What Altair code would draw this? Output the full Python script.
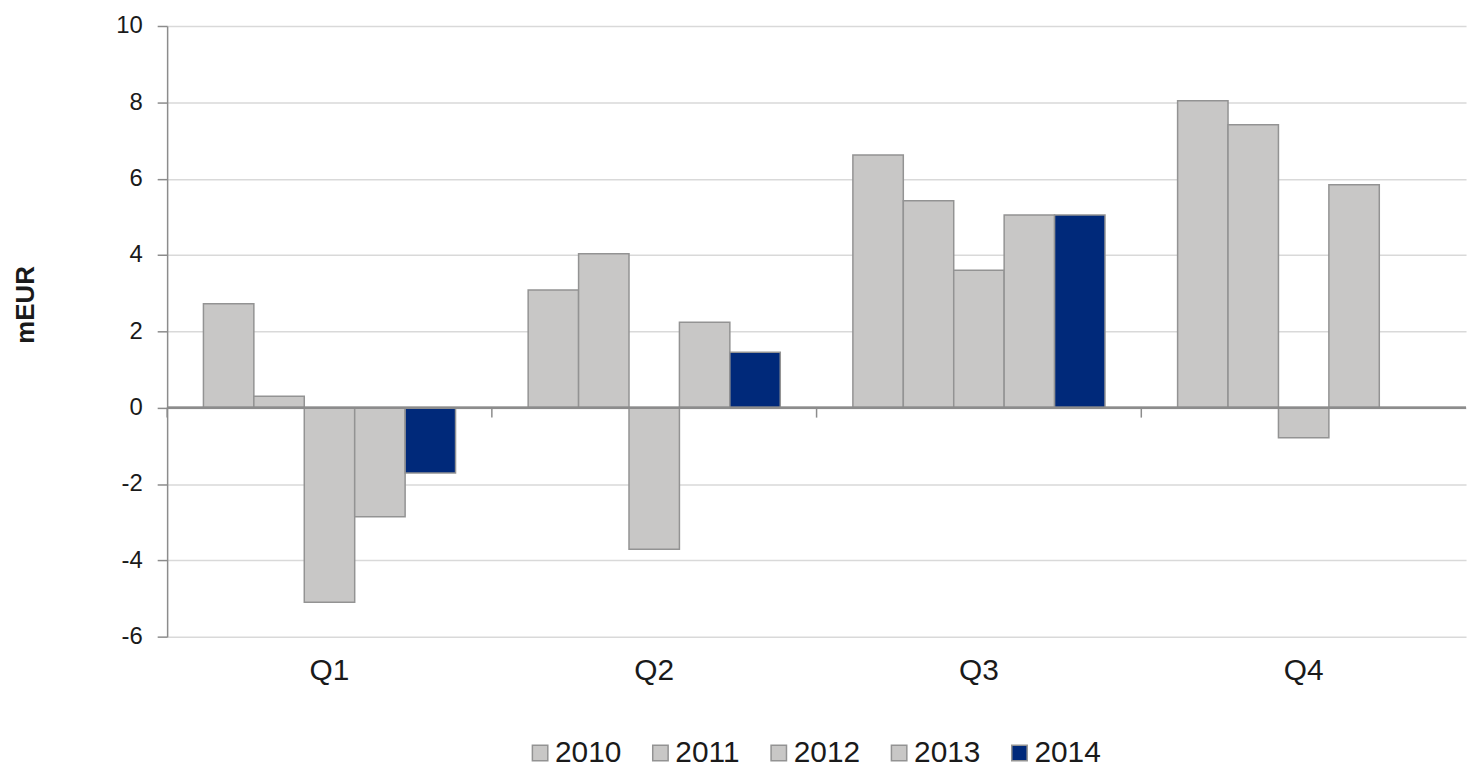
import altair as alt
import pandas as pd

quarters = ["Q1", "Q2", "Q3", "Q4"]
years = ["2010", "2011", "2012", "2013", "2014"]
v2010 = [2.72, 3.08, 6.62, 8.04]
v2011 = [0.30, 4.03, 5.42, 7.41]
v2012 = [-5.10, -3.71, 3.60, -0.79]
v2013 = [-2.86, 2.24, 5.05, 5.84]
v2014 = [-1.71, 1.45, 5.05, None]

series = {"2010": v2010, "2011": v2011, "2012": v2012, "2013": v2013, "2014": v2014}
rows = []
for y in years:
    for q, v in zip(quarters, series[y]):
        if v is not None:
            rows.append({"Quarter": q, "Year": y, "Value": v})
df = pd.DataFrame(rows)
qdf = pd.DataFrame({"Quarter": quarters})

GRAY = "#c8c7c6"
NAVY = "#00297a"
EDGE = "#939393"
AXIS = "#8c8c8c"
FONT = "Liberation Sans"

W, H = 1306, 614
ymin, ymax = -6, 10
tick_len = 10 * (ymax - ymin) / H  # tick length below zero, in data units

xscale = alt.Scale(domain=quarters, paddingInner=0, paddingOuter=0)
yscale = alt.Scale(domain=[ymin, ymax], nice=False)

bars = alt.Chart(df).mark_bar(stroke=EDGE, strokeWidth=1.5).encode(
    x=alt.X("Quarter:N", scale=xscale, sort=quarters,
            axis=alt.Axis(title=None, domain=False, ticks=False, grid=False,
                          labelAngle=0, labelFontSize=30, labelFont=FONT,
                          labelColor="#1a1a1a", labelPadding=19)),
    xOffset=alt.XOffset("Year:N", sort=years,
                        scale=alt.Scale(paddingOuter=0.72, paddingInner=0)),
    y=alt.Y("Value:Q", scale=yscale,
            axis=alt.Axis(title="mEUR", values=list(range(-6, 11, 2)),
                          labelExpr="'' + datum.value",
                          titleFontSize=26, titleFontWeight="bold", titleFont=FONT,
                          titleColor="#1a1a1a", titleAngle=270,
                          titleX=-142, titleY=280, titleAlign="center",
                          titleBaseline="middle",
                          labelFontSize=24, labelFont=FONT, labelColor="#1a1a1a",
                          labelPadding=15, tickSize=10, tickColor=AXIS,
                          tickWidth=1.5, domainColor=AXIS, domainWidth=1.5,
                          gridColor="#d9d9d9", gridWidth=1.5)),
    color=alt.Color("Year:N", sort=years,
                    scale=alt.Scale(domain=years, range=[GRAY, GRAY, GRAY, GRAY, NAVY]),
                    legend=alt.Legend(title=None, orient="none", direction="horizontal",
                                      legendX=360, legendY=716,
                                      symbolType="square", symbolSize=240,
                                      symbolStrokeColor=EDGE, symbolStrokeWidth=1.5,
                                      labelFontSize=30, labelFont=FONT,
                                      labelColor="#1a1a1a", labelOffset=0,
                                      columnPadding=24, padding=0)),
)

zero_line = alt.Chart(qdf).mark_rule(color=AXIS, strokeWidth=2).encode(
    y=alt.datum(0, scale=yscale)
)

zero_ticks = alt.Chart(qdf).mark_rule(color=AXIS, strokeWidth=1.5).encode(
    x=alt.X("Quarter:N", scale=xscale, sort=quarters, bandPosition=0),
    y=alt.datum(0),
    y2=alt.datum(-tick_len),
)

chart = alt.layer(bars, zero_line, zero_ticks).properties(
    width=W, height=H,
    autosize=alt.AutoSizeParams(type="none"),
    padding={"left": 160, "top": 16, "right": 4, "bottom": 134},
).configure_view(stroke=None)

chart.save("out.html", embed_options={"renderer": "svg", "actions": False})
